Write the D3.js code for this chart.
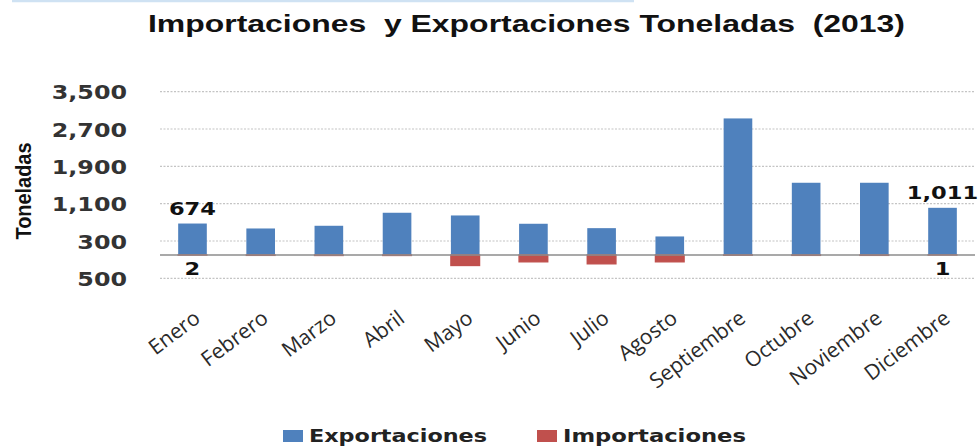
<!DOCTYPE html>
<html>
<head>
<meta charset="utf-8">
<script src="https://cdn.jsdelivr.net/npm/d3@7/dist/d3.min.js"></script>
<style>
  html, body { margin: 0; padding: 0; background: #ffffff; }
  svg { display: block; }
</style>
</head>
<body>
<svg id="chart" width="980" height="448"></svg>
<script>
// ---- data ----
const months = ["Enero","Febrero","Marzo","Abril","Mayo","Junio","Julio","Agosto","Septiembre","Octubre","Noviembre","Diciembre"];
const exportaciones = [674, 568, 626, 905, 847, 669, 575, 397, 2927, 1548, 1548, 1011];
const importaciones = [2, 8, 10, 10, 225, 146, 189, 146, 5, 8, 8, 1];
const tickValues = [-500, 300, 1100, 1900, 2700, 3500];
const tickLabels = ["500", "300", "1,100", "1,900", "2,700", "3,500"];
const labeledExport = ["Enero", "Diciembre"];
const labeledImport = ["Enero", "Diciembre"];
const seriesNames = ["Exportaciones", "Importaciones"];
const titleText = "Importaciones  y Exportaciones Toneladas  (2013)";
const yTitle = "Toneladas";

// ---- styles ----
const BLUE = "#4f81bd", RED = "#c0504d";
const STRETCH = 1.22;

const svg = d3.select("#chart");

const x = d3.scaleBand().domain(months).range([158.4, 976.6]).paddingInner(0.58).paddingOuter(0.29);
const y = d3.scaleLinear().domain([-500, 3500]).range([278.3, 91.7]);

function stretch(sel, f) {
  sel.each(function () {
    const w = this.getComputedTextLength();
    d3.select(this).attr("textLength", w * f).attr("lengthAdjust", "spacingAndGlyphs");
  });
}

// top decorative light line
svg.append("line").attr("x1", 12).attr("x2", 634).attr("y1", 1).attr("y2", 1)
  .attr("stroke", "#cfe2f3").attr("stroke-width", 2.5);

// title
svg.append("text").attr("x", 148).attr("y", 32)
  .attr("font-family", "'Liberation Sans', Arial, sans-serif").attr("font-weight", "bold")
  .attr("font-size", 24).attr("fill", "#111")
  .attr("textLength", 757).attr("lengthAdjust", "spacingAndGlyphs")
  .style("white-space", "pre")
  .text(titleText);

// y axis title
svg.append("text").attr("transform", "translate(31,191) rotate(-90)")
  .attr("text-anchor", "middle")
  .attr("font-family", "'Liberation Sans Narrow', 'Liberation Sans', Arial, sans-serif")
  .attr("font-weight", "bold").attr("font-size", 21.5).attr("fill", "#111")
  .attr("textLength", 97).attr("lengthAdjust", "spacingAndGlyphs")
  .text(yTitle);

// gridlines + y tick labels via axis
const yAxis = d3.axisLeft(y).tickValues(tickValues)
  .tickFormat((d, i) => tickLabels[i]).tickSize(0).tickPadding(0);
const gy = svg.append("g").attr("transform", "translate(127,0)").call(yAxis);
gy.select(".domain").remove();
gy.selectAll("text")
  .attr("font-family", "'DejaVu Sans', Verdana, sans-serif").attr("font-weight", "bold")
  .attr("font-size", 19.5).attr("fill", "#333").attr("dy", "0.36em");
stretch(gy.selectAll("text"), STRETCH);

svg.append("g").selectAll("line").data(tickValues).join("line")
  .attr("x1", 160).attr("x2", 975)
  .attr("y1", d => y(d)).attr("y2", d => y(d))
  .attr("stroke", "#c4c4c4").attr("stroke-width", 1.2).attr("stroke-dasharray", "2,1.5");

// bars
svg.append("g").selectAll("rect").data(months).join("rect")
  .attr("x", d => x(d)).attr("width", x.bandwidth())
  .attr("y", (d, i) => y(exportaciones[i]))
  .attr("height", (d, i) => y(0) - y(exportaciones[i]))
  .attr("fill", BLUE);

svg.append("g").selectAll("rect").data(months).join("rect")
  .attr("x", d => x(d)).attr("width", x.bandwidth())
  .attr("y", y(0))
  .attr("height", (d, i) => y(-importaciones[i]) - y(0))
  .attr("fill", RED).attr("stroke", RED).attr("stroke-width", 1.4);

// zero line
svg.append("line").attr("x1", 160).attr("x2", 975).attr("y1", y(0)).attr("y2", y(0))
  .attr("stroke", "#8c8c8c").attr("stroke-width", 1.5);

// data labels
const fmt = d3.format(",");
const lblE = svg.append("g").selectAll("text").data(labeledExport).join("text")
  .attr("x", d => x(d) + x.bandwidth() / 2)
  .attr("y", d => y(exportaciones[months.indexOf(d)]) - 9)
  .attr("text-anchor", "middle")
  .attr("font-family", "'DejaVu Sans', Verdana, sans-serif").attr("font-weight", "bold")
  .attr("font-size", 18.5).attr("fill", "#111")
  .text(d => fmt(exportaciones[months.indexOf(d)]));
stretch(lblE, STRETCH);

const lblI = svg.append("g").selectAll("text").data(labeledImport).join("text")
  .attr("x", d => x(d) + x.bandwidth() / 2)
  .attr("y", d => y(-importaciones[months.indexOf(d)]) + 20)
  .attr("text-anchor", "middle")
  .attr("font-family", "'DejaVu Sans', Verdana, sans-serif").attr("font-weight", "bold")
  .attr("font-size", 18.5).attr("fill", "#111")
  .text(d => fmt(importaciones[months.indexOf(d)]));
stretch(lblI, STRETCH);

// category labels
svg.append("g").selectAll("text").data(months).join("text")
  .attr("transform", d => `translate(${x(d) + x.bandwidth() / 2 + 9},321) rotate(-37)`)
  .attr("text-anchor", "end")
  .attr("font-family", "'Open Sans', sans-serif").attr("font-size", 21).attr("fill", "#2a2a2a")
  .text(d => d);

// legend
const legendX = [283, 537];
const legendW = [178, 183];
const colors = [BLUE, RED];
const lg = svg.append("g").selectAll("g").data(seriesNames).join("g");
lg.append("rect").attr("x", (d, i) => legendX[i]).attr("y", 430).attr("width", 20).attr("height", 12)
  .attr("fill", (d, i) => colors[i]);
lg.append("text").attr("x", (d, i) => legendX[i] + 26).attr("y", 442)
  .attr("font-family", "'DejaVu Sans', Verdana, sans-serif").attr("font-weight", "bold")
  .attr("font-size", 17).attr("fill", "#222")
  .attr("textLength", (d, i) => legendW[i]).attr("lengthAdjust", "spacingAndGlyphs")
  .text(d => d);
</script>
</body>
</html>
